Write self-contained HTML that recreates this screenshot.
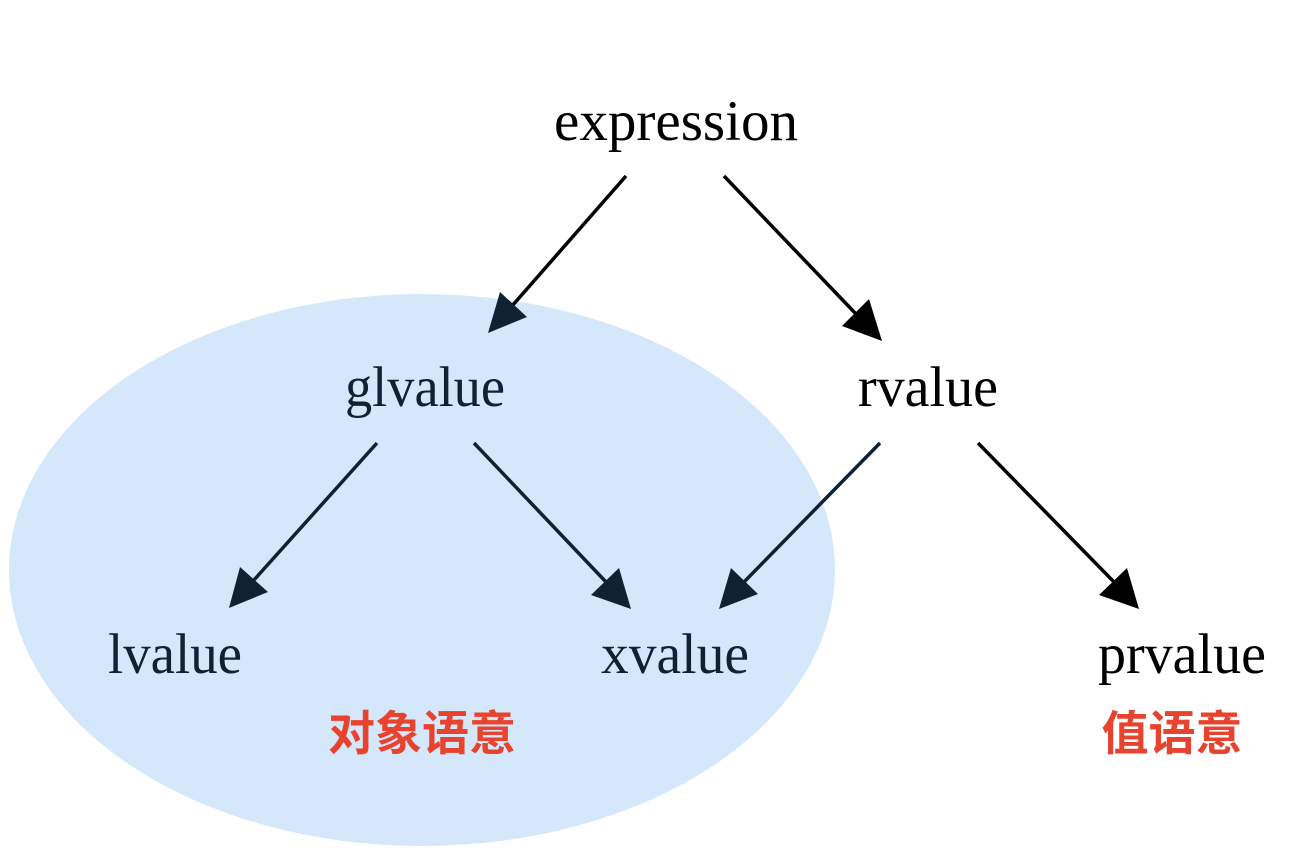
<!DOCTYPE html>
<html><head><meta charset="utf-8"><style>
html,body{margin:0;padding:0;background:#fff;}
svg{display:block;}
</style></head><body>
<svg width="1314" height="864" viewBox="0 0 1314 864" xmlns="http://www.w3.org/2000/svg">
<ellipse cx="422" cy="570" rx="413" ry="276" fill="#d5e8fb"/>
<g stroke-width="3.5" fill="none">
<line x1="626" y1="176" x2="512" y2="306" stroke="#000"/>
<line x1="724" y1="176" x2="856" y2="314" stroke="#000"/>
<line x1="377" y1="443" x2="254" y2="580" stroke="#0f2233"/>
<line x1="474" y1="443" x2="606" y2="582" stroke="#0f2233"/>
<line x1="880" y1="443" x2="744" y2="582" stroke="#0f2233"/>
<line x1="978" y1="443" x2="1114" y2="582" stroke="#000"/>
</g>
<g>
<polygon points="488,333 500,292 527,317" fill="#0f2233"/>
<polygon points="882,341 842,326 869,299" fill="#000"/>
<polygon points="229,608 240,567 268,592" fill="#0f2233"/>
<polygon points="631,609 591,595 619,568" fill="#0f2233"/>
<polygon points="719,609 731,568 758,594" fill="#0f2233"/>
<polygon points="1139,609 1099,595 1127,568" fill="#000"/>
</g>
<g font-family="'Liberation Serif',serif" font-size="57" text-anchor="middle">
<text x="676" y="140" fill="#000" textLength="244" lengthAdjust="spacingAndGlyphs">expression</text>
<text x="425" y="406" fill="#0f2233" textLength="160" lengthAdjust="spacingAndGlyphs">glvalue</text>
<text x="928" y="406" fill="#000" textLength="140" lengthAdjust="spacingAndGlyphs">rvalue</text>
<text x="175" y="673" fill="#0f2233" textLength="134" lengthAdjust="spacingAndGlyphs">lvalue</text>
<text x="675" y="673" fill="#0f2233" textLength="148" lengthAdjust="spacingAndGlyphs">xvalue</text>
<text x="1182" y="673" fill="#000" textLength="168" lengthAdjust="spacingAndGlyphs">prvalue</text>
</g>
<g font-family="'Liberation Sans','Noto Sans CJK SC',sans-serif" font-size="47" font-weight="bold" fill="#e8432e" text-anchor="middle">
<text x="422" y="750">对象语意</text>
<text x="1172" y="750">值语意</text>
</g>
</svg>
</body></html>
